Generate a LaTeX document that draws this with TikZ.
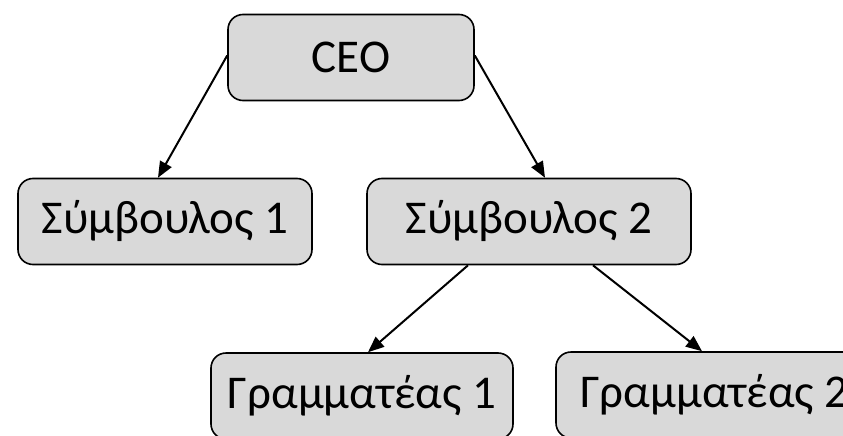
\documentclass[tikz,border=0pt]{standalone}
\usepackage{fontspec}
\setmainfont{Carlito}
\usetikzlibrary{arrows.meta}
\begin{document}
\begin{tikzpicture}[x=1pt,y=-1pt,
  box/.style={draw=black, line width=1.6pt, fill=boxgray, rounded corners=15pt,
    minimum height=86pt, inner sep=0pt, font=\fontsize{47}{56}\selectfont},
  link/.style={line width=2pt, -{Triangle[length=16pt,width=13pt]}}]
\definecolor{boxgray}{HTML}{D9D9D9}
\useasboundingbox (0,0) rectangle (843,436);
\clip (0,0) rectangle (843,436);
\node[box, minimum width=246pt] (ceo) at (351,57.5) {CEO};
\node[box, minimum width=294pt] (s1) at (165,221.5) {Σύμβουλος 1};
\node[box, minimum width=324pt] (s2) at (529,221.5) {Σύμβουλος 2};
\node[box, minimum width=302pt] (g1) at (362,396) {Γραμματέας 1};
\node[box, minimum width=317pt] (g2) at (714.5,395) {Γραμματέας 2};
\draw[link] ([yshift=2pt]ceo.west) -- ([xshift=-7pt]s1.north);
\draw[link] ([yshift=2pt]ceo.east) -- ([xshift=16pt]s2.north);
\draw[link] ([xshift=-61pt]s2.south) -- ([xshift=6pt]g1.north);
\draw[link] ([xshift=64pt]s2.south) -- ([xshift=-12.5pt]g2.north);
\end{tikzpicture}
\end{document}
